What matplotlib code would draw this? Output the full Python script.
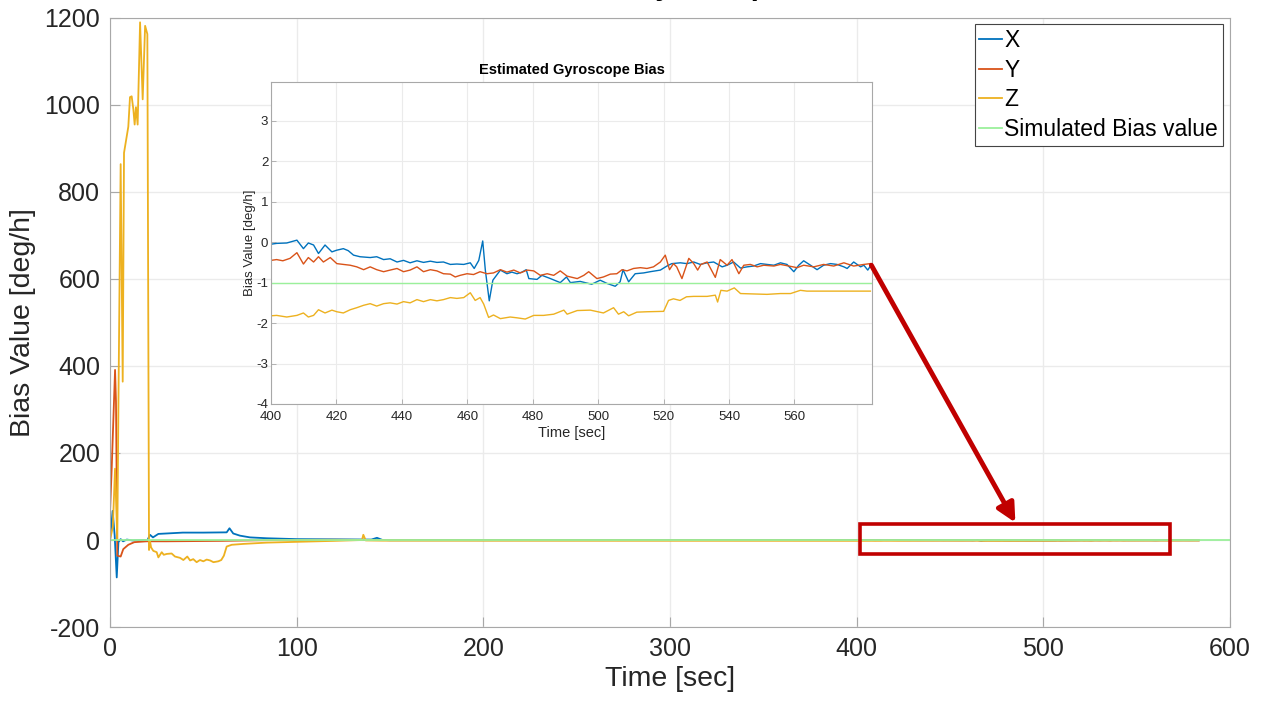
import matplotlib
matplotlib.use('Agg')
import matplotlib.pyplot as plt
from matplotlib.patches import Rectangle, ConnectionPatch
import numpy as np

plt.rcParams['font.family'] = ['Liberation Sans', 'DejaVu Sans']
plt.rcParams['axes.unicode_minus'] = False

# ── Dados: viés estimado do giroscópio [deg/h] ───────────────────────────

# parte inicial (0-400 s), só visível no gráfico principal
t_x_ini = [0, 1.4, 2.5, 3.6, 4.5, 5.7, 7, 9, 12, 18, 20, 21.4, 23, 25.9, 30, 39, 50,
           62.5, 64, 66, 69.6, 75, 84, 100, 120, 140, 143, 146, 150, 200, 250, 300, 350]
x_ini = [0, 67, 10, -86, -5, 2, -3, 1, -1, 0, -1, 12, 6, 14, 15, 17, 17,
         17.6, 27, 15, 10, 6, 4, 2, 1.5, 1, 5, 0, -0.5, -0.4, -0.3, -0.2, -0.1]

t_y_ini = [0, 0.9, 2.7, 3.2, 3.9, 5.7, 7.1, 9.8, 13, 19.6, 30, 60, 90, 120, 150, 200, 300, 350]
y_ini = [65, 164, 391, 318, -36, -38, -21, -11, -5, -3, -3, -2, 0, 0.5, 0, -0.3, -0.4, -0.4]

t_z_ini = [0, 1.5, 2.7, 3.9, 4.5, 5.7, 6.8, 7.5, 8.9, 9.8,
           10.7, 11.6, 12.5, 13.2, 13.9, 14.8, 16.1, 17.5, 18.8, 20,
           20.9, 21.4, 22, 23.2, 25, 25.9, 27.7, 28.8, 30.4, 33,
           34.8, 37.5, 39.3, 41.4, 42.9, 44.6, 46.4, 48.2, 50, 51.8,
           53.6, 55.4, 58, 59.6, 61, 62.5, 65.2, 71.4, 84, 102,
           120, 135, 135.7, 137, 146, 200, 250, 300, 350]
z_ini = [0, 30, 164, 0, 310, 864, 364, 890, 927, 950,
         1018, 1020, 990, 955, 995, 955, 1190, 1013, 1182, 1163,
         -23, -2, -17, -25, -28, -40, -28, -34, -32, -31,
         -38, -41, -46, -38, -47, -44, -51, -46, -49, -45,
         -47, -51, -49, -46, -36, -15, -11, -9, -6, -4,
         -2, 0, 12, -1, -1.5, -1.6, -1.7, -1.7, -1.8]

# parte final (400-583 s), mostrada no detalhe
t_x = [400, 401.7, 404.8, 407.9, 409.9, 411.4, 413, 414.5, 416.5, 418.6,
       420, 422.1, 423.6, 425.2, 427.2, 430.3, 432.3, 434.4, 436.4, 438.5,
       440.5, 442.5, 444.6, 446.6, 448.7, 450.7, 452.7, 454.8, 456.8, 458.9,
       460.9, 462.1, 463.5, 464.7, 465.5, 466.7, 467.8, 470.1, 472.1, 473.6,
       475.2, 476.7, 478, 478.8, 481.3, 482.8, 485.4, 488.4, 490.3, 491.5,
       494.5, 498, 500.6, 502.7, 505.2, 506.7, 507.6, 509.3, 511.3, 513.9,
       515.9, 519, 521, 522.5, 525.1, 527.1, 529.2, 531.2, 533.3, 535.3,
       537.9, 539.4, 541.4, 543.5, 545.5, 547.5, 549.6, 551.6, 553.7, 555.7,
       557.7, 559.8, 561.3, 562.8, 564.9, 566.9, 568.9, 571, 573, 575.1,
       576.1, 578.1, 580.2, 581.2, 582.4, 583.2]
bias_x = [-0.05, -0.03, -0.02, 0.05, -0.16, -0.02, -0.07, -0.28, -0.07, -0.24,
          -0.2, -0.16, -0.21, -0.32, -0.36, -0.38, -0.36, -0.43, -0.41, -0.49,
          -0.45, -0.51, -0.46, -0.5, -0.47, -0.5, -0.49, -0.55, -0.54, -0.55,
          -0.51, -0.65, -0.45, 0.03, -0.69, -1.45, -0.94, -0.69, -0.78, -0.74,
          -0.78, -0.74, -0.68, -0.9, -0.92, -0.82, -0.9, -1.0, -0.86, -1.0,
          -0.97, -1.04, -0.94, -1.02, -1.09, -0.98, -0.68, -0.98, -0.78, -0.76,
          -0.73, -0.69, -0.59, -0.53, -0.51, -0.53, -0.49, -0.55, -0.51, -0.49,
          -0.61, -0.57, -0.49, -0.64, -0.61, -0.59, -0.53, -0.55, -0.57, -0.51,
          -0.55, -0.73, -0.57, -0.46, -0.57, -0.68, -0.57, -0.53, -0.55, -0.61,
          -0.65, -0.49, -0.61, -0.57, -0.69, -0.59]

t_y = [400, 401.7, 403.6, 405.8, 407.9, 409.9, 411.4, 413, 414.5, 416,
       418.1, 420.1, 422.1, 424.2, 426.2, 428.3, 430.3, 432.3, 434.4, 436.4,
       438.5, 440.5, 442.5, 444.6, 446.6, 448.7, 450.7, 452.7, 454.8, 456.3,
       457.8, 459.9, 461.9, 463.9, 466, 468, 470.1, 472.1, 474.2, 476.2,
       478.3, 480.3, 482.3, 484.4, 486.4, 488.4, 490.5, 493.6, 495.6, 497.1,
       499.6, 501.6, 503.7, 505.7, 507.3, 508.8, 510.8, 512.9, 514.9, 516.9,
       519, 520.5, 521.8, 523, 524, 525.6, 527.7, 529.2, 530.4, 531.4,
       533.3, 535.8, 537.3, 539.4, 540.9, 543, 544.5, 546.5, 548.6, 550.6,
       553.7, 555.7, 558.3, 560.8, 562.8, 565.9, 568.9, 572, 575.1, 578.1,
       581.2, 583.2]
bias_y = [-0.45, -0.43, -0.46, -0.4, -0.26, -0.54, -0.38, -0.49, -0.36, -0.49,
          -0.38, -0.53, -0.55, -0.57, -0.61, -0.68, -0.61, -0.68, -0.73, -0.69,
          -0.65, -0.73, -0.69, -0.61, -0.73, -0.68, -0.71, -0.78, -0.79, -0.86,
          -0.82, -0.78, -0.8, -0.73, -0.78, -0.76, -0.68, -0.74, -0.69, -0.76,
          -0.69, -0.71, -0.82, -0.78, -0.82, -0.71, -0.84, -0.9, -0.82, -0.73,
          -0.9, -0.86, -0.79, -0.78, -0.68, -0.71, -0.65, -0.63, -0.65, -0.61,
          -0.49, -0.32, -0.68, -0.53, -0.61, -0.9, -0.4, -0.53, -0.69, -0.55,
          -0.49, -0.87, -0.43, -0.57, -0.43, -0.78, -0.57, -0.55, -0.61, -0.57,
          -0.59, -0.55, -0.59, -0.63, -0.57, -0.61, -0.55, -0.59, -0.51, -0.59,
          -0.55, -0.53]

t_z = [400, 401.7, 404.8, 407.9, 409.9, 411.4, 413, 414.5, 416.5, 418.6,
       420.1, 422.1, 424.2, 426.2, 428.3, 430.3, 432.3, 434.4, 436.4, 438.5,
       440.5, 442.5, 444.6, 446.6, 448.7, 450.7, 452.7, 454.8, 456.8, 458.9,
       460.9, 462.4, 463.9, 465, 466.5, 468, 470.1, 473.1, 475.2, 477.7,
       480.3, 483.3, 486.4, 489.5, 490.5, 493.6, 497.6, 501.6, 504.7, 506.2,
       507.8, 509.3, 511.8, 514.9, 520, 521.5, 523, 525, 527, 529.2,
       533.3, 535.8, 536.5, 537.5, 539.4, 541.6, 543.5, 547.5, 551.6, 555.7,
       558.8, 561.8, 563.8, 567.9, 574, 583.2]
bias_z = [-1.82, -1.81, -1.85, -1.81, -1.75, -1.85, -1.81, -1.67, -1.75, -1.68,
          -1.72, -1.75, -1.67, -1.62, -1.56, -1.52, -1.58, -1.52, -1.5, -1.53,
          -1.47, -1.5, -1.42, -1.47, -1.42, -1.45, -1.42, -1.37, -1.39, -1.37,
          -1.25, -1.44, -1.37, -1.53, -1.86, -1.8, -1.89, -1.85, -1.87, -1.9,
          -1.81, -1.81, -1.78, -1.68, -1.78, -1.69, -1.68, -1.75, -1.62, -1.78,
          -1.72, -1.82, -1.73, -1.72, -1.71, -1.44, -1.4, -1.44, -1.35, -1.34,
          -1.34, -1.31, -1.48, -1.19, -1.21, -1.13, -1.27, -1.28, -1.29, -1.27,
          -1.27, -1.19, -1.21, -1.21, -1.21, -1.21]

t_sim = [0, 600]
bias_sim = [-1, -1]

# retângulo de destaque e seta
zoom_t = [401.7, 567.8]
zoom_v = [-32, 37]

COR_X, COR_Y, COR_Z, COR_SIM = '#0072BD', '#D95319', '#EDB120', '#9BF09B'
COR_TXT, COR_EIXO, COR_GRADE = '#262626', '#a8a8a8', '#ebebeb'
VERMELHO = '#C00000'

fig = plt.figure(figsize=(12.66, 7.08), dpi=100)

# ── Gráfico principal ─────────────────────────────────────────────────────
ax = fig.add_axes([0.0869, 0.1144, 0.8847, 0.8602])
ax.plot(t_x_ini + t_x, x_ini + bias_x, color=COR_X, lw=1.3, label='X')
ax.plot(t_y_ini + t_y, y_ini + bias_y, color=COR_Y, lw=1.3, label='Y')
ax.plot(t_z_ini + t_z, z_ini + bias_z, color=COR_Z, lw=1.3, label='Z')
ax.plot(t_sim, bias_sim, color=COR_SIM, lw=1.3, label='Simulated Bias value')
ax.set_xlim(0, 600)
ax.set_ylim(-200, 1200)
ax.set_xticks(np.arange(0, 601, 100))
ax.set_yticks(np.arange(-200, 1201, 200))
ax.grid(color=COR_GRADE, lw=1)
ax.tick_params(direction='in', length=7, width=0.8, color=COR_EIXO,
               labelsize=18, labelcolor=COR_TXT, pad=7)
for s in ax.spines.values():
    s.set_color(COR_EIXO)
ax.set_xlabel('Time [sec]', fontsize=20.5, color=COR_TXT, labelpad=4)
ax.set_ylabel('Bias Value [deg/h]', fontsize=20.5, color=COR_TXT, labelpad=6)

leg = ax.legend(loc='upper right', bbox_to_anchor=(0.9975, 0.9975), fontsize=16.5,
                handlelength=1.0, handletextpad=0.1, labelspacing=0.3,
                borderpad=0.2, borderaxespad=0.2, fancybox=False, framealpha=1)
leg.get_frame().set_edgecolor('#444444')
leg.get_frame().set_linewidth(0.8)

ax.add_patch(Rectangle((zoom_t[0], zoom_v[0]), zoom_t[1] - zoom_t[0],
                       zoom_v[1] - zoom_v[0], fill=False, ec=VERMELHO,
                       lw=2.6, zorder=5))

# título do gráfico principal, cortado na borda superior
fig.text(0.529, 1.0075, 'Estimated Gyroscope Bias', ha='center', va='baseline',
         fontsize=21, fontweight='bold', color='black')

# ── Detalhe 400-583 s ─────────────────────────────────────────────────────
ins = fig.add_axes([0.2141, 0.4294, 0.4747, 0.4548])
ins.plot(t_x, bias_x, color=COR_X, lw=1.0)
ins.plot(t_y, bias_y, color=COR_Y, lw=1.0)
ins.plot(t_z, bias_z, color=COR_Z, lw=1.0)
ins.plot(t_sim, bias_sim, color=COR_SIM, lw=1.0)
ins.set_xlim(400, 583.7)
ins.set_ylim(-4, 3.96)
ins.set_xticks(np.arange(400, 561, 20))
ins.set_yticks(np.arange(-4, 4, 1))
ins.grid(color=COR_GRADE, lw=0.8)
ins.tick_params(axis='both', direction='in', length=3.5, width=0.6,
                color=COR_EIXO, labelsize=9.5, labelcolor=COR_TXT)
ins.tick_params(axis='x', pad=5)
ins.tick_params(axis='y', pad=2)
for s in ins.spines.values():
    s.set_color(COR_EIXO)
ins.set_xlabel('Time [sec]', fontsize=10.5, color=COR_TXT, labelpad=2)
ins.set_ylabel('Bias Value [deg/h]', fontsize=9.5, color=COR_TXT, labelpad=0)
ins.set_title('Estimated Gyroscope Bias', fontsize=10.5, fontweight='bold',
              color='black', pad=6)

seta = ConnectionPatch(xyA=(583.5, -0.57), coordsA=ins.transData,
                       xyB=(485, 40), coordsB=ax.transData,
                       arrowstyle='-|>', mutation_scale=28, lw=3.5,
                       color=VERMELHO, zorder=10)
fig.add_artist(seta)

plt.savefig('out.png', dpi=100)
plt.close()
